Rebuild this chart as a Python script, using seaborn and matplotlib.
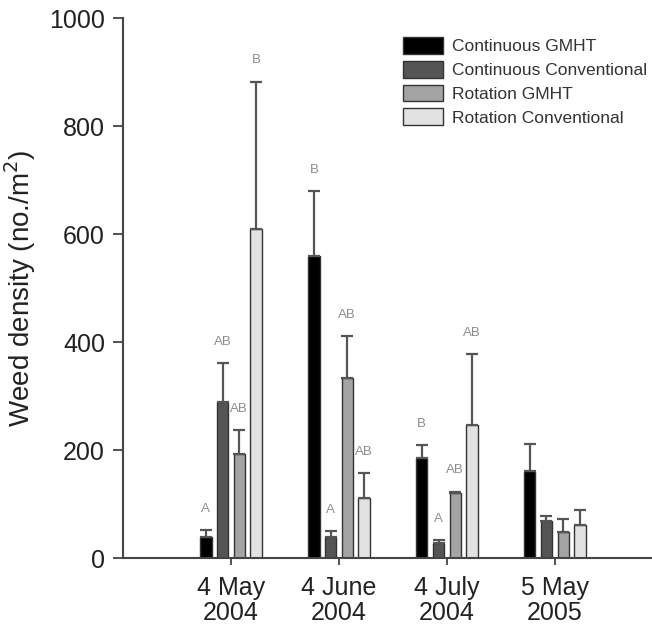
import matplotlib
matplotlib.use("Agg")
import matplotlib.pyplot as plt
import seaborn as sns
import pandas as pd
from matplotlib.patches import Patch

# values
dates = ["4 May\n2004", "4 June\n2004", "4 July\n2004", "5 May\n2005"]
treatments = ["Continuous GMHT", "Continuous Conventional",
              "Rotation GMHT", "Rotation Conventional"]

cont_gmht = [39, 560, 185, 162]
cont_gmht_se = [12, 120, 24, 50]
cont_conv = [289, 39, 27, 69]
cont_conv_se = [72, 11, 6, 9]
rot_gmht = [193, 333, 121, 49]
rot_gmht_se = [44, 78, 2, 23]
rot_conv = [610, 112, 246, 61]
rot_conv_se = [272, 45, 132, 28]

cont_gmht_lbl = ["A", "B", "B", ""]
cont_conv_lbl = ["AB", "A", "A", ""]
rot_gmht_lbl = ["AB", "AB", "AB", ""]
rot_conv_lbl = ["B", "AB", "AB", ""]

colors = ["#000000", "#555555", "#a4a4a4", "#e2e2e2"]

means = [cont_gmht, cont_conv, rot_gmht, rot_conv]
errs = [cont_gmht_se, cont_conv_se, rot_gmht_se, rot_conv_se]
letters = [cont_gmht_lbl, cont_conv_lbl, rot_gmht_lbl, rot_conv_lbl]

rows = []
for t, vals in zip(treatments, means):
    for d, v in zip(dates, vals):
        rows.append({"Date": d, "Treatment": t, "Density": v})
df = pd.DataFrame(rows)

sns.set_style("ticks")
plt.rcParams["font.family"] = ["Liberation Sans", "DejaVu Sans"]

fig = plt.figure(figsize=(6.52, 6.28), dpi=100)
ax = fig.add_axes([123 / 652, 70 / 628, 529 / 652, 540 / 628])

sns.barplot(data=df, x="Date", y="Density", hue="Treatment", order=dates,
            hue_order=treatments, palette=colors, errorbar=None,
            width=0.62, gap=0.32, edgecolor="#333333", linewidth=1.0,
            legend=False, ax=ax)

# one-sided error bars and significance letters
for cont, se, lbl in zip(ax.containers, errs, letters):
    xs = [b.get_x() + b.get_width() / 2 for b in cont]
    hs = [b.get_height() for b in cont]
    ax.errorbar(xs, hs, yerr=[[0] * len(se), se], fmt="none",
                ecolor="#555555", elinewidth=1.6, capsize=4.5, capthick=1.6,
                zorder=1)
    for x, h, e, s in zip(xs, hs, se, lbl):
        if s:
            ax.annotate(s, (x, h + e), xytext=(0, 11), textcoords="offset points",
                        ha="center", va="bottom", fontsize=9.5, color="#8c8c8c")

ax.set_xlim(-1, 3.9)
ax.set_ylim(0, 1000)
ax.set_yticks([0, 200, 400, 600, 800, 1000])
ax.set_xlabel("")
ax.set_ylabel("Weed density (no./m$^2$)", fontsize=20, color="#222222", labelpad=8)

for lab in ax.get_xticklabels():
    lab.set_linespacing(1.05)
ax.tick_params(axis="x", labelsize=18, length=5, width=1.3, colors="#444444",
               labelcolor="#222222", pad=8)
ax.tick_params(axis="y", labelsize=18, length=7, width=1.3, colors="#444444",
               labelcolor="#222222", pad=6)

sns.despine(ax=ax)
for side in ["left", "bottom"]:
    ax.spines[side].set_color("#444444")
    ax.spines[side].set_linewidth(1.5)

handles = [Patch(facecolor=c, edgecolor="#333333", linewidth=1.0) for c in colors]
ax.legend(handles, treatments, loc="upper left",
          bbox_to_anchor=(403 / 652, 1 - 37 / 628), bbox_transform=fig.transFigure,
          frameon=False, fontsize=12.5, handlelength=2.3, handleheight=1.1,
          handletextpad=0.5, labelspacing=0.38, borderpad=0, borderaxespad=0,
          labelcolor="#333333")

fig.savefig("out.png", dpi=100)
